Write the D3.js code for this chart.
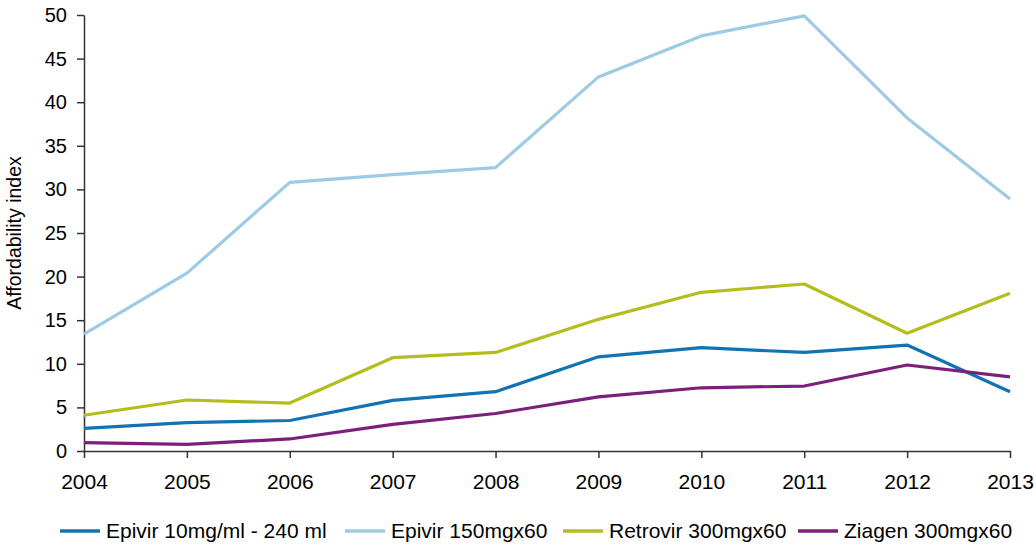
<!DOCTYPE html>
<html>
<head>
<meta charset="utf-8">
<script src="https://cdn.jsdelivr.net/npm/d3@7"></script>
<style>
  body { margin: 0; background: #fff; }
  text { font-family: "Liberation Sans", Arial, sans-serif; fill: #000; }
</style>
</head>
<body>
<script>
const width = 1036;
const height = 546;
const margin = { top: 15, right: 26, bottom: 95, left: 84 };

const years = [2004, 2005, 2006, 2007, 2008, 2009, 2010, 2011, 2012, 2013];
const seriesNames = ['Epivir 10mg/ml - 240 ml', 'Epivir 150mgx60', 'Retrovir 300mgx60', 'Ziagen 300mgx60'];
const colors = ['#1273b3', '#9dcbe6', '#b4bd1e', '#7c1f7c'];

const epivir10 = [2.6, 3.25, 3.5, 5.8, 6.8, 10.8, 11.85, 11.3, 12.15, 6.8];
const epivir150 = [13.4, 20.4, 30.8, 31.7, 32.5, 42.9, 47.6, 49.9, 38.2, 28.9];
const retrovir = [4.1, 5.85, 5.5, 10.7, 11.3, 15.1, 18.2, 19.15, 13.5, 18.1];
const ziagen = [0.95, 0.77, 1.38, 3.06, 4.3, 6.2, 7.25, 7.45, 9.86, 8.5];

const yTicks = [0, 5, 10, 15, 20, 25, 30, 35, 40, 45, 50];

const allSeries = [epivir10, epivir150, retrovir, ziagen];

const svg = d3.select("body")
    .append("svg")
    .attr("width", width)
    .attr("height", height);

let xScale = d3.scalePoint()
    .domain(years)
    .range([margin.left, width - margin.right]);

let yScale = d3.scaleLinear()
    .domain([0, 50])
    .range([height - margin.bottom, margin.top]);

let xAxis = d3.axisBottom(xScale).tickSize(7).tickSizeOuter(0).tickPadding(16);
let yAxis = d3.axisLeft(yScale).tickValues(yTicks).tickSize(7).tickSizeOuter(0).tickPadding(10);

let gx = svg.append("g")
    .attr("transform", `translate(0, ${height - margin.bottom})`)
    .call(xAxis);

let gy = svg.append("g")
    .attr("transform", `translate(${margin.left}, 0)`)
    .call(yAxis);

[gx, gy].forEach(g => {
    g.selectAll("path, line").attr("stroke", "#333").attr("stroke-width", 1.5);
    g.selectAll("text").attr("fill", "#000");
});
gx.selectAll("text").style("font-size", "21px");
gy.selectAll("text").style("font-size", "20px");

svg.append("text")
    .attr("transform", `translate(21, ${(margin.top + height - margin.bottom) / 2}) rotate(-90)`)
    .attr("text-anchor", "middle")
    .style("font-size", "19.5px")
    .text("Affordability index");

let line = d3.line()
    .x((d, i) => xScale(years[i]))
    .y(d => yScale(d));

svg.selectAll(".series")
    .data(allSeries)
    .enter()
    .append("path")
    .attr("class", "series")
    .attr("d", d => line(d))
    .attr("fill", "none")
    .attr("stroke", (d, i) => colors[i])
    .attr("stroke-width", 3.2)
    .attr("stroke-linejoin", "round");

// legend
const legendX = [60, 345, 563, 798];
let legend = svg.append("g")
    .selectAll("g")
    .data(seriesNames)
    .enter()
    .append("g")
    .attr("transform", (d, i) => `translate(${legendX[i]}, 531)`);

legend.append("line")
    .attr("x1", 0)
    .attr("x2", 40)
    .attr("stroke", (d, i) => colors[i])
    .attr("stroke-width", 3.5);

legend.append("text")
    .attr("x", 46)
    .attr("dy", "0.35em")
    .style("font-size", "21px")
    .text(d => d);
</script>
</body>
</html>
